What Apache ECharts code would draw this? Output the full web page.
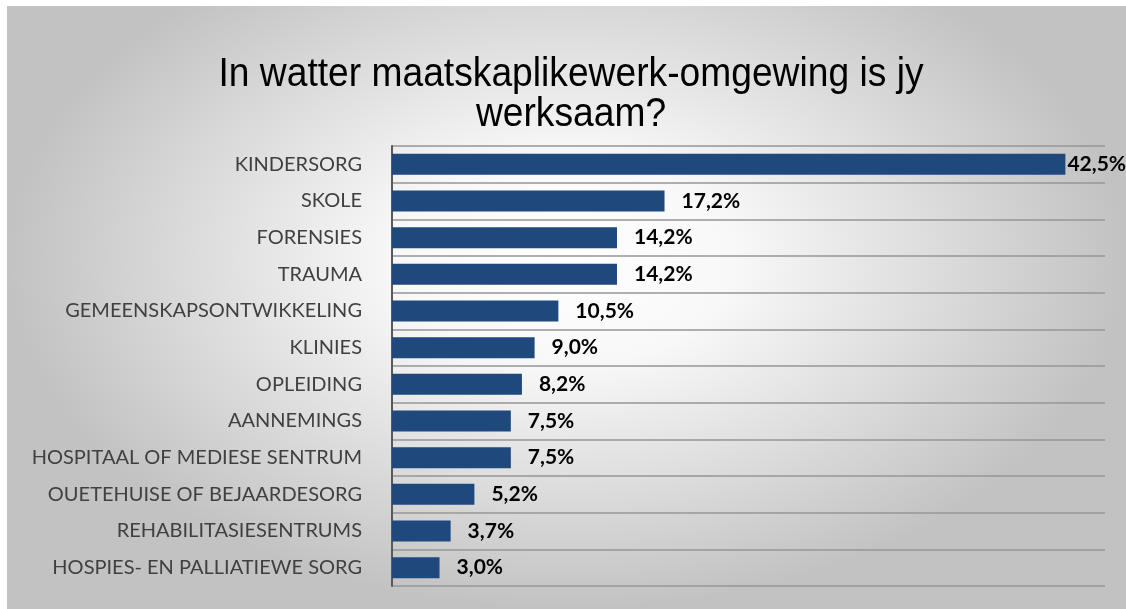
<!DOCTYPE html>
<html>
<head>
<meta charset="utf-8">
<script src="https://cdn.jsdelivr.net/npm/echarts@6/dist/echarts.min.js"></script>
<style>
html,body{margin:0;padding:0;background:#ffffff;width:1126px;height:609px;overflow:hidden;}
#wrap{position:absolute;left:7px;top:6px;width:1119px;height:603px;
 background:radial-gradient(ellipse farthest-side at 50% 42%, #ffffff 0%, #f8f8f8 30%, #c2c2c2 100%);}
#chart{width:1119px;height:603px;}
</style>
</head>
<body>
<div id="wrap"><div id="chart"></div></div>
<script>
const titleLines = ['In watter maatskaplikewerk-omgewing is jy', 'werksaam?'];
const categories = ['KINDERSORG','SKOLE','FORENSIES','TRAUMA','GEMEENSKAPSONTWIKKELING','KLINIES','OPLEIDING','AANNEMINGS','HOSPITAAL OF MEDIESE SENTRUM','OUETEHUISE OF BEJAARDESORG','REHABILITASIESENTRUMS','HOSPIES- EN PALLIATIEWE SORG'];
const values = [42.5,17.2,14.2,14.2,10.5,9.0,8.2,7.5,7.5,5.2,3.7,3.0];

const chart = echarts.init(document.getElementById('chart'), null, {renderer:'canvas'});
const data = values.map((v,i)=> i===0 ? {value:v, label:{distance:2}} : {value:v});
chart.setOption({
  backgroundColor:'transparent',
  animation:false,
  graphic:[
    {type:'text', x:564, y:69, scaleX:0.93, style:{text:titleLines[0], x:0, y:0, textAlign:'center', textVerticalAlign:'middle', font:'40px "Liberation Sans", Arial, sans-serif', fill:'#000'}},
    {type:'text', x:564, y:109, scaleX:0.93, style:{text:titleLines[1], x:0, y:0, textAlign:'center', textVerticalAlign:'middle', font:'40px "Liberation Sans", Arial, sans-serif', fill:'#000'}}
  ],
  grid:{left:385, right:21, top:140, bottom:23, containLabel:false},
  xAxis:{type:'value', min:0, max:45, show:true,
    axisLine:{show:false}, axisTick:{show:false}, axisLabel:{show:false}, splitLine:{show:false}},
  yAxis:{type:'category', inverse:true, data:categories,
    axisLine:{show:true, lineStyle:{color:'#595959', width:2}},
    axisTick:{show:false},
    axisLabel:{margin:30, color:'#404040', fontFamily:'Lato, "Open Sans", sans-serif', fontSize:20},
    splitLine:{show:true, lineStyle:{color:'rgba(150,150,150,0.75)', width:2}}
  },
  series:[{type:'bar', data:data, barWidth:21, itemStyle:{color:'#1f497d'},
    label:{show:true, position:'right', distance:17, color:'#000', fontWeight:'bold', fontFamily:'Lato, "Open Sans", sans-serif', fontSize:21,
      formatter:p=>p.value.toFixed(1).replace('.',',')+'%'}
  }]
});
</script>
</body>
</html>
